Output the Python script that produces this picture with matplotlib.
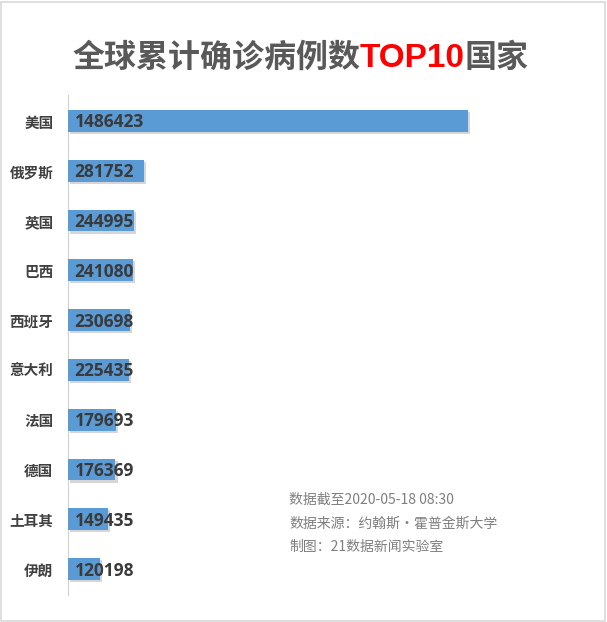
import matplotlib
matplotlib.use("Agg")
import matplotlib.pyplot as plt
import matplotlib.patheffects as pe
from matplotlib.patches import Rectangle

countries = ["美国", "俄罗斯", "英国", "巴西", "西班牙", "意大利", "法国", "德国", "土耳其", "伊朗"]
cases = [1486423, 281752, 244995, 241080, 230698, 225435, 179693, 176369, 149435, 120198]
notes = ["数据截至2020-05-18 08:30", "数据来源：约翰斯·霍普金斯大学", "制图：21数据新闻实验室"]

cjk = ["Noto Sans CJK SC", "DejaVu Sans"]
plt.rcParams["font.family"] = cjk

fig = plt.figure(figsize=(6.07, 6.22), dpi=100)
fig.patch.set_facecolor("white")
fig.add_artist(Rectangle((0.002, 0.002), 0.995, 0.995, transform=fig.transFigure,
                         fill=False, edgecolor="#d9d9d9", linewidth=1.2))

ax = fig.add_axes([68 / 607, 27 / 622, 522 / 607, 500 / 622])
y = range(len(countries))
bars = ax.barh(y, cases, height=0.44, color="#5b9bd5", zorder=3)
for b in bars:
    b.set_path_effects([pe.SimplePatchShadow(offset=(1.5, -1.5), shadow_rgbFace="#8a8a8a", alpha=0.35),
                        pe.Normal()])

ax.set_xlim(0, 1486423 * 522 / 400)
ax.set_ylim(len(countries) - 0.48, -0.52)
ax.set_xticks([])
ax.set_yticks(list(y))
ax.set_yticklabels(countries, fontsize=10.5, fontweight="bold", color="#404040")
ax.tick_params(axis="y", length=0, pad=10.5)
for s in ["top", "right", "bottom"]:
    ax.spines[s].set_visible(False)
ax.spines["left"].set_color("#d0d0d0")

for i, v in enumerate(cases):
    ax.text(6.5 / 400 * 1486423, i + 0.03, str(v), va="center", ha="left",
            fontsize=12.5, fontweight="bold", color="#3a3a3a",
            family=["Open Sans", "DejaVu Sans"], zorder=5)

# title in three colored parts
t1 = fig.text(72 / 607, 1 - 67 / 622, "全球累计确诊病例数", fontsize=23, fontweight="bold",
              color="#595959", ha="left", va="baseline")
t2 = ax.annotate("TOP10", xy=(1, 0), xycoords=t1, fontsize=24, fontweight="bold",
                 color="#ff0000", ha="left", va="bottom", family=["Liberation Sans", "DejaVu Sans"],
                 annotation_clip=False)
t3 = ax.annotate("国家", xy=(1, 0), xycoords=t2, fontsize=23, fontweight="bold",
                 color="#595959", ha="left", va="bottom", annotation_clip=False)

for k, line in enumerate(notes):
    fig.text(289 / 607, 1 - (500 + k * 23.5) / 622, line, fontsize=10, color="#7f7f7f",
             ha="left", va="center")

fig.savefig("out.png", dpi=100, facecolor="white")
